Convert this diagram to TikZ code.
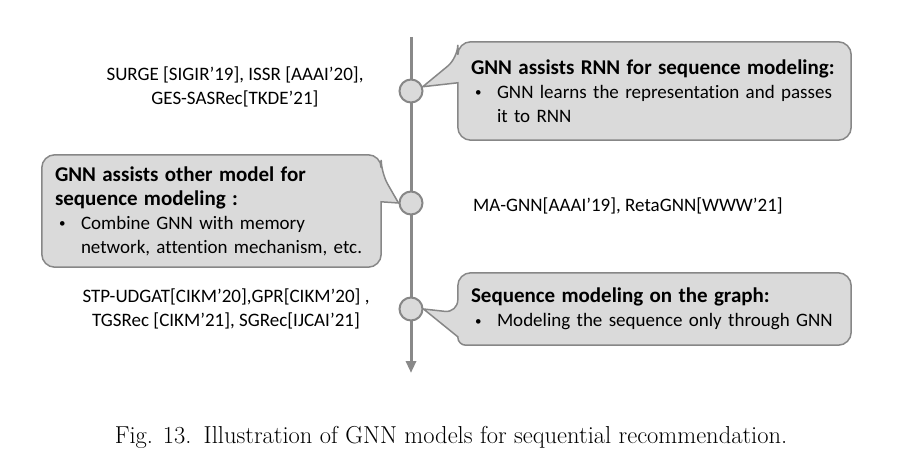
\documentclass[tikz,border=0pt]{standalone}
\usepackage{fontspec}
\newfontfamily\calib[Ligatures=NoCommon]{Carlito}
\usetikzlibrary{calc,backgrounds,arrows.meta}
\definecolor{tlgray}{RGB}{137,137,137}
\definecolor{boxfill}{RGB}{218,218,218}
\definecolor{boxedge}{RGB}{135,135,135}
\newcommand{\ind}{\hspace*{6.5pt}}
\newcommand{\bul}{\hspace*{10.5pt}\makebox[22pt][l]{\raisebox{1.5pt}{\fontsize{13}{13}\selectfont\textbullet}}}

\begin{document}
\begin{tikzpicture}[x=1pt,y=-1pt,
  dot/.style={circle,draw=boxedge,fill=boxfill,line width=2pt,minimum size=23pt,inner sep=0pt},
  callout/.style={draw=boxedge,fill=boxfill,line width=1.5pt},
  boxtext/.style={inner xsep=6.5pt,inner ysep=0pt,align=left,font=\calib\fontsize{19}{24}\selectfont},
  ref/.style={inner sep=0pt,align=center,font=\calib\fontsize{19}{24}\selectfont}]
\useasboundingbox (0,0) rectangle (903,468);

\coordinate (top) at (411,37);
\coordinate (end) at (411,373);
\draw[tlgray,line width=3pt,-{Triangle[width=10pt,length=12pt]}] (top) -- (end);

\foreach \y/\n in {91/c1,203/c2,309/c3}
  \node[dot] (\n) at (411,\y) {};

\node[boxtext,text width=380pt,minimum height=98pt] (rnn) at (654.5,91)
  {\ind{\bfseries\fontsize{21}{24}\selectfont GNN assists RNN for sequence modeling:}\\
   \bul GNN learns the representation and passes\\
   \hspace*{32.5pt}it to RNN};
\node[boxtext,text width=326pt,minimum height=112pt] (other) at (211.5,211)
  {\ind{\bfseries\fontsize{21}{24}\selectfont GNN assists other model for}\\
   \ind{\bfseries\fontsize{21}{24}\selectfont sequence modeling :}\\
   \bul Combine GNN with memory\\
   \hspace*{32.5pt}network, attention mechanism, etc.};
\node[boxtext,text width=380pt,minimum height=72pt] (graph) at (654.5,309)
  {\ind{\bfseries\fontsize{21}{24}\selectfont Sequence modeling on the graph:}\\
   \bul Modeling the sequence only through GNN};

\begin{scope}[on background layer]
\draw[callout] (rnn.north) [rounded corners=13pt] -- (rnn.north west)
  -- ($(rnn.north west)+(0,16)$) [sharp corners] -- (c1.20)
  -- ($(rnn.north west)+(0,41)$) [rounded corners=13pt] -- (rnn.south west)
  -- (rnn.south east) -- (rnn.north east) -- cycle;
\draw[callout] (other.north) [rounded corners=13pt] -- (other.north east)
  -- ($(other.north east)+(0,18)$) [sharp corners] -- (c2.west)
  -- ($(other.north east)+(0,47)$) [rounded corners=13pt] -- (other.south east)
  -- (other.south west) -- (other.north west) -- cycle;
\draw[callout] (graph.north) [rounded corners=13pt] -- (graph.north west)
  -- ($(graph.north west)+(0,40)$) [sharp corners] -- (c3.east)
  -- ($(graph.north west)+(0,64)$) [rounded corners=8pt] -- (graph.south west)
  [rounded corners=13pt] -- (graph.south east) -- (graph.north east) -- cycle;
\end{scope}

\node[ref] (r1) at (235,87) {SURGE [SIGIR’19], ISSR [AAAI’20],\\ GES-SASRec[TKDE’21]};
\node[ref,anchor=west] (r2) at (473,206) {MA-GNN[AAAI’19], RetaGNN[WWW’21]};
\node[ref] (r3) at (226,309) {STP-UDGAT[CIKM’20],GPR[CIKM’20] ,\\ TGSRec [CIKM’21], SGRec[IJCAI’21]};

\node[font=\fontsize{24.5}{26}\selectfont] (cap) at (451,437)
  {Fig. 13.\enspace Illustration of GNN models for sequential recommendation.};
\end{tikzpicture}
\end{document}
